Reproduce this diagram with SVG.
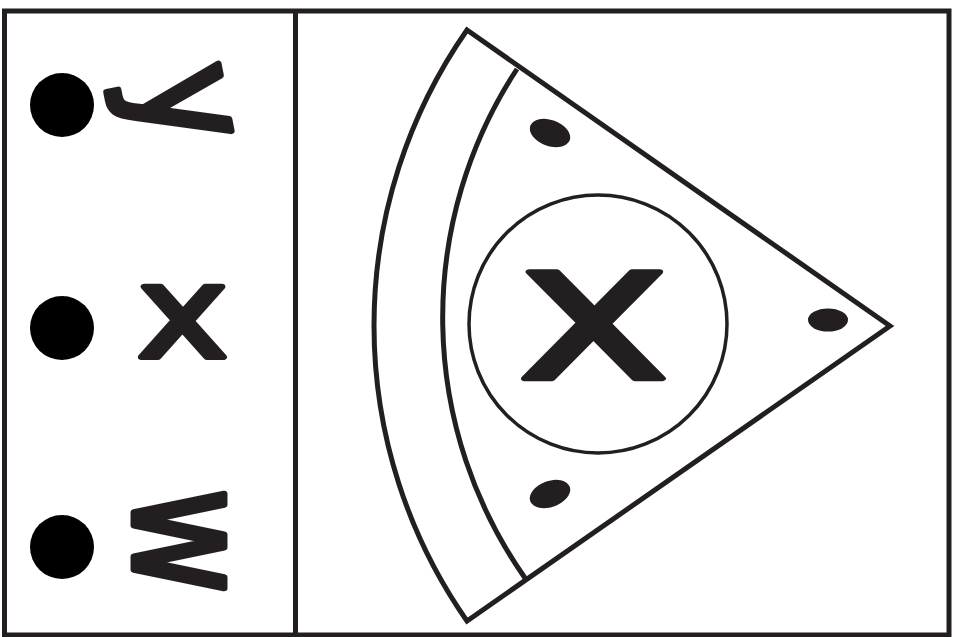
<svg xmlns="http://www.w3.org/2000/svg" width="955" height="637" viewBox="0 0 955 637">
  <style>
    .frame { fill: none; stroke: #231f20; stroke-width: 5; }
    .outline { fill: none; stroke: #231f20; stroke-width: 5; stroke-linejoin: miter; }
    .thin { fill: none; stroke: #231f20; stroke-width: 3.5; }
    .dot { fill: #000000; }
    .spot { fill: #231f20; }
    .letter { font-family: "DejaVu Sans", "Liberation Sans", sans-serif; fill: #231f20; stroke: #231f20; stroke-linejoin: round; stroke-width: 7; }
  </style>
  <rect width="955" height="637" fill="#ffffff"/>
  <g id="frame">
    <rect class="frame" x="4.5" y="11" width="944.5" height="624"/>
    <line class="frame" x1="295.5" y1="11" x2="295.5" y2="635"/>
  </g>
  <g id="legend-y">
    <circle class="dot" cx="62" cy="105" r="32"/>
    <text class="letter" font-size="152" stroke-width="9" transform="rotate(-11 173 95) translate(140,69) rotate(90) scale(0.85,1)">y</text>
  </g>
  <g id="legend-x">
    <circle class="dot" cx="62" cy="328" r="32"/>
    <text class="letter" font-size="150" transform="translate(137,356.5) scale(1.03,0.85)">x</text>
  </g>
  <g id="legend-w">
    <circle class="dot" cx="62" cy="547" r="32"/>
    <text class="letter" font-size="164" transform="translate(133.8,488) rotate(90) scale(0.79,1)">w</text>
  </g>
  <g id="slice">
    <path class="outline" d="M467,30 L890,326 L467,621 A516,516 0 0 1 467,30 Z"/>
    <path class="outline" d="M525,578 A453,453 0 0 1 517,69" stroke-width="4.5"/>
    <circle class="thin" cx="598" cy="324" r="129"/>
    <text class="letter" font-size="260" stroke-width="9" transform="translate(517,378.5) scale(1,0.75)">x</text>
    <ellipse class="spot" cx="550" cy="133" rx="21" ry="13" transform="rotate(20 550 133)"/>
    <ellipse class="spot" cx="550" cy="494" rx="21" ry="13" transform="rotate(-20 550 494)"/>
    <ellipse class="spot" cx="828" cy="320" rx="20" ry="11.5"/>
  </g>
</svg>
